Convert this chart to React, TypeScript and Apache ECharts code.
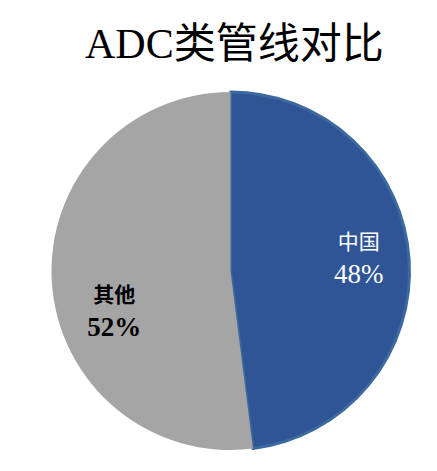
import { useEffect, useRef } from 'react';
import * as echarts from 'echarts';

const titleText = 'ADC类管线对比';
const categories = ['中国', '其他'];
const shares = [48, 52];
const sliceColors = ['#2F5597', '#A5A5A5'];

const serif = 'Liberation Serif, Noto Sans CJK SC, serif';

export default function App() {
  const chartRef = useRef<HTMLDivElement>(null);

  useEffect(() => {
    if (!chartRef.current) return;
    const chart = echarts.init(chartRef.current, undefined, { renderer: 'svg' });

    const option: echarts.EChartsOption = {
      animation: false,
      backgroundColor: '#FFFFFF',
      title: {
        text: titleText,
        left: 80,
        top: 18,
        textStyle: {
          fontFamily: serif,
          fontSize: 42,
          fontWeight: 'normal',
          color: '#000000',
        },
      },
      series: [
        {
          type: 'pie',
          center: [230.5, 271],
          radius: 179,
          startAngle: 90,
          clockwise: true,
          labelLine: { show: false },
          label: {
            position: 'inside',
            formatter: '{n|{b}}\n{v|{c}%}',
            fontFamily: serif,
            rich: {
              n: { fontFamily: serif, fontSize: 21, lineHeight: 32 },
              v: { fontFamily: serif, fontSize: 27, lineHeight: 32 },
            },
          },
          labelLayout: (params: any) =>
            params.dataIndex === 0 ? { dx: 36, dy: -7 } : { dx: -24, dy: 34 },
          data: categories.map((name, i) => {
            const color = i === 0 ? '#FFFFFF' : '#000000';
            const weight = i === 0 ? 'normal' : 'bold';
            return {
              name,
              value: shares[i],
              itemStyle:
                i === 0
                  ? { color: sliceColors[i], borderColor: '#3D6A9E', borderWidth: 3 }
                  : { color: sliceColors[i], borderWidth: 0 },
              label: {
                color,
                fontWeight: weight,
                rich: {
                  n: { color, fontWeight: weight, fontFamily: serif, fontSize: 21, lineHeight: 32 },
                  v: { color, fontWeight: weight, fontFamily: serif, fontSize: 27, lineHeight: 32 },
                },
              },
            };
          }),
        },
      ],
    };

    chart.setOption(option);
    return () => {
      chart.dispose();
    };
  }, []);

  return (
    <div
      ref={chartRef}
      style={{ position: 'fixed', left: 0, top: 0, width: '437px', height: '471px' }}
    />
  );
}
